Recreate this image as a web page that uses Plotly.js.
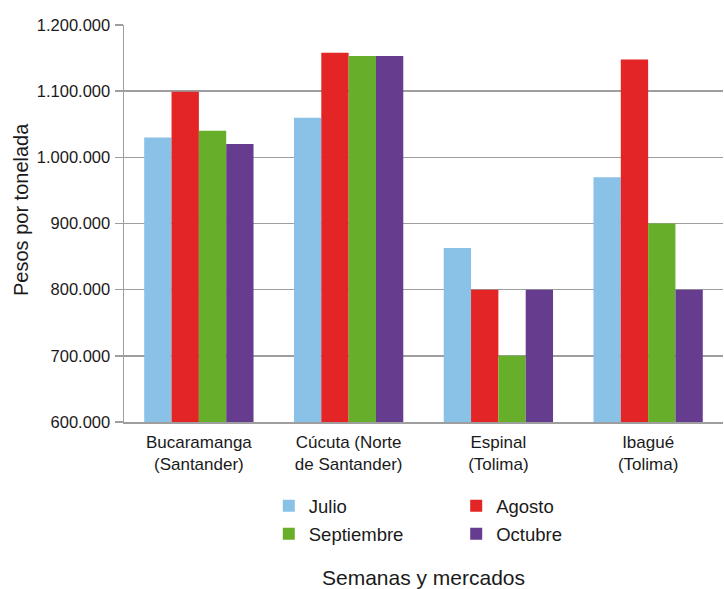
<!DOCTYPE html>
<html>
<head>
<meta charset="utf-8">
<script src="https://cdn.plot.ly/plotly-3.0.1.min.js"></script>
<style>html,body{margin:0;padding:0;background:#fff;}#chart{width:724px;height:589px;}</style>
</head>
<body>
<div id="chart"></div>
<script>
const categories = ["Bucaramanga<br>(Santander)", "Cúcuta (Norte<br>de Santander)", "Espinal<br>(Tolima)", "Ibagué<br>(Tolima)"];
const julio = [1030000, 1060000, 863000, 970000];
const agosto = [1099000, 1158000, 800000, 1148000];
const septiembre = [1040000, 1153000, 700000, 900000];
const octubre = [1020000, 1153000, 800000, 800000];
const yTicks = [600000, 700000, 800000, 900000, 1000000, 1100000, 1200000];

const FAM = "Liberation Sans, Arial, sans-serif";
const TXT = "#1a1a1a";
const legendFont = {family: FAM, size: 18.5, color: TXT};
const data = [
  {type: "bar", name: "Julio", x: categories, y: julio, marker: {color: "#8AC1E6"}, legend: "legend", legendgroup: "a"},
  {type: "bar", name: "Agosto", x: categories, y: agosto, marker: {color: "#E32526"}, legend: "legend2", legendgroup: "b"},
  {type: "bar", name: "Septiembre", x: categories, y: septiembre, marker: {color: "#67AE2A"}, legend: "legend", legendgroup: "c"},
  {type: "bar", name: "Octubre", x: categories, y: octubre, marker: {color: "#653C8E"}, legend: "legend2", legendgroup: "d"}
];
const layout = {
  width: 724, height: 589,
  margin: {l: 124, r: 1, t: 25, b: 167},
  paper_bgcolor: "#fff", plot_bgcolor: "#fff",
  font: {family: FAM, size: 16, color: TXT},
  separators: ",.",
  barmode: "group", bargap: 0.27, bargroupgap: 0,
  xaxis: {
    showline: true, linecolor: "#9e9e9e", linewidth: 1.5,
    ticks: "", tickfont: {family: FAM, size: 17, color: TXT}, ticklabelstandoff: 4,
    title: {text: "Semanas y mercados", font: {family: FAM, size: 21, color: TXT}, standoff: 97}
  },
  yaxis: {
    range: [600000, 1200000], tickvals: yTicks, tickformat: ",d",
    showline: true, linecolor: "#9e9e9e", linewidth: 1.5,
    ticks: "outside", ticklen: 8, tickcolor: "#9e9e9e", tickwidth: 1.5,
    showgrid: true, gridcolor: "#9e9e9e", gridwidth: 1.5, zeroline: false,
    tickfont: {family: FAM, size: 16.5, color: TXT}, ticklabelstandoff: 1
  },
  annotations: [{
    text: "Pesos por tonelada", textangle: -90, showarrow: false,
    xref: "paper", x: 0, xanchor: "center", xshift: -103,
    yref: "paper", y: (422 - 210) / 397, yanchor: "middle",
    font: {family: FAM, size: 20, color: TXT}
  }],
  showlegend: true,
  legend: {x: 0.2417, xanchor: "left", y: -0.164, yanchor: "top", orientation: "v", font: legendFont, bgcolor: "rgba(0,0,0,0)", tracegroupgap: 1},
  legend2: {x: 0.5546, xanchor: "left", y: -0.164, yanchor: "top", orientation: "v", font: legendFont, bgcolor: "rgba(0,0,0,0)", tracegroupgap: 1}
};
Plotly.newPlot("chart", data, layout, {displayModeBar: false, staticPlot: true});
</script>
</body>
</html>
